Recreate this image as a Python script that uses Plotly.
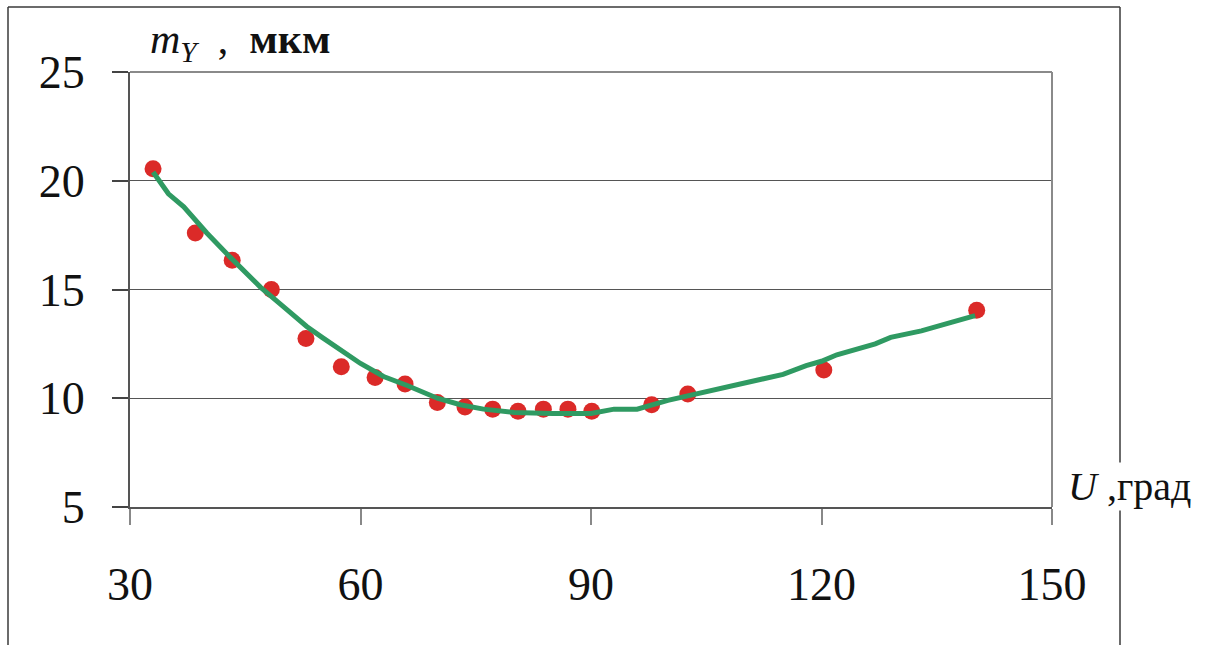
import plotly.graph_objects as go

# measured points
u_pts = [33.0, 38.5, 43.3, 48.4, 52.9, 57.5, 61.9, 65.8, 70.0, 73.6, 77.2, 80.5, 83.8, 87.0, 90.1, 97.9, 102.6, 120.3, 140.2]
m_pts = [20.55, 17.6, 16.35, 15.0, 12.75, 11.45, 10.95, 10.65, 9.8, 9.6, 9.5, 9.4, 9.5, 9.5, 9.4, 9.7, 10.2, 11.3, 14.05]

# fitted curve
u_fit = [33, 35, 37, 40, 43, 45, 47, 50, 53, 55, 57, 60, 63, 66, 70, 73, 76, 80, 85, 90, 93, 96, 100, 105, 110, 115, 118, 120, 122, 127, 129, 133, 137, 140]
m_fit = [20.4, 19.4, 18.8, 17.6, 16.5, 15.8, 15.1, 14.2, 13.3, 12.8, 12.3, 11.6, 11.0, 10.6, 10.0, 9.7, 9.5, 9.35, 9.3, 9.3, 9.5, 9.5, 9.9, 10.3, 10.7, 11.1, 11.5, 11.7, 12.0, 12.5, 12.8, 13.1, 13.5, 13.8]

x_ticks = [30, 60, 90, 120, 150]
y_ticks = [5, 10, 15, 20, 25]

W, H = 1206, 645
L, R, T, B = 130, 1052, 72, 507

fig = go.Figure()
fig.add_trace(go.Scatter(x=u_pts, y=m_pts, mode="markers",
                         marker=dict(color="#db2a28", size=17), hoverinfo="skip"))
fig.add_trace(go.Scatter(x=u_fit, y=m_fit, mode="lines",
                         line=dict(color="#2f9a62", width=5), hoverinfo="skip"))

font = "Liberation Serif, Times New Roman, serif"
fig.update_layout(
    width=W, height=H,
    margin=dict(l=L, r=W - R, t=T, b=H - B, pad=0, autoexpand=False),
    paper_bgcolor="white", plot_bgcolor="white",
    showlegend=False,
    font=dict(family=font, color="#111", size=46),
    xaxis=dict(range=[30, 150], tickvals=x_ticks, showgrid=False, zeroline=False, automargin=False,
               ticks="outside", ticklen=16, tickwidth=2, tickcolor="#888",
               showline=True, linecolor="#555", linewidth=2, mirror=False,
               tickfont=dict(size=46, family=font, color="#111"), ticklabelstandoff=20),
    yaxis=dict(range=[5, 25], tickvals=y_ticks, showgrid=True, gridcolor="#555", gridwidth=1,
               zeroline=False, automargin=False, ticks="outside", ticklen=16, tickwidth=1.5, tickcolor="#444",
               showline=True, linecolor="#555", linewidth=2,
               tickfont=dict(size=46, family=font, color="#111"), ticklabelstandoff=18),
)

def px(x):
    return (x - L) / (R - L)

def py(y):
    return (B - y) / (B - T)

# plot area top and right borders (gray)
fig.add_shape(type="line", xref="paper", yref="paper", x0=0, x1=1, y0=1, y1=1,
              line=dict(color="#8a8a8a", width=2))
fig.add_shape(type="line", xref="paper", yref="paper", x0=1, x1=1, y0=0, y1=1,
              line=dict(color="#8a8a8a", width=2))
# outer frame
fl = dict(color="#3a3a3a", width=1.5)
fig.add_shape(type="line", xref="paper", yref="paper", x0=px(8), x1=px(8), y0=py(7), y1=py(H), line=fl)
fig.add_shape(type="line", xref="paper", yref="paper", x0=px(8), x1=px(1120), y0=py(7), y1=py(7), line=fl)
fig.add_shape(type="line", xref="paper", yref="paper", x0=px(1120), x1=px(1120), y0=py(7), y1=py(H), line=fl)

fig.add_annotation(xref="paper", yref="paper", x=px(148), y=py(42), xanchor="left", yanchor="middle",
                   text="<i>m</i><sub><i>Y</i></sub>&nbsp;&nbsp;,&nbsp;&nbsp;<b>мкм</b>", showarrow=False,
                   font=dict(size=42, family=font, color="#111"))
fig.add_annotation(xref="paper", yref="paper", x=px(1066), y=py(486), xanchor="left", yanchor="middle",
                   text="<i>U</i> ,град", showarrow=False, bgcolor="white",
                   font=dict(size=40, family=font, color="#111"))

fig.write_html("out.html", config={"displayModeBar": False},
               post_script="document.body.style.margin='0';")
